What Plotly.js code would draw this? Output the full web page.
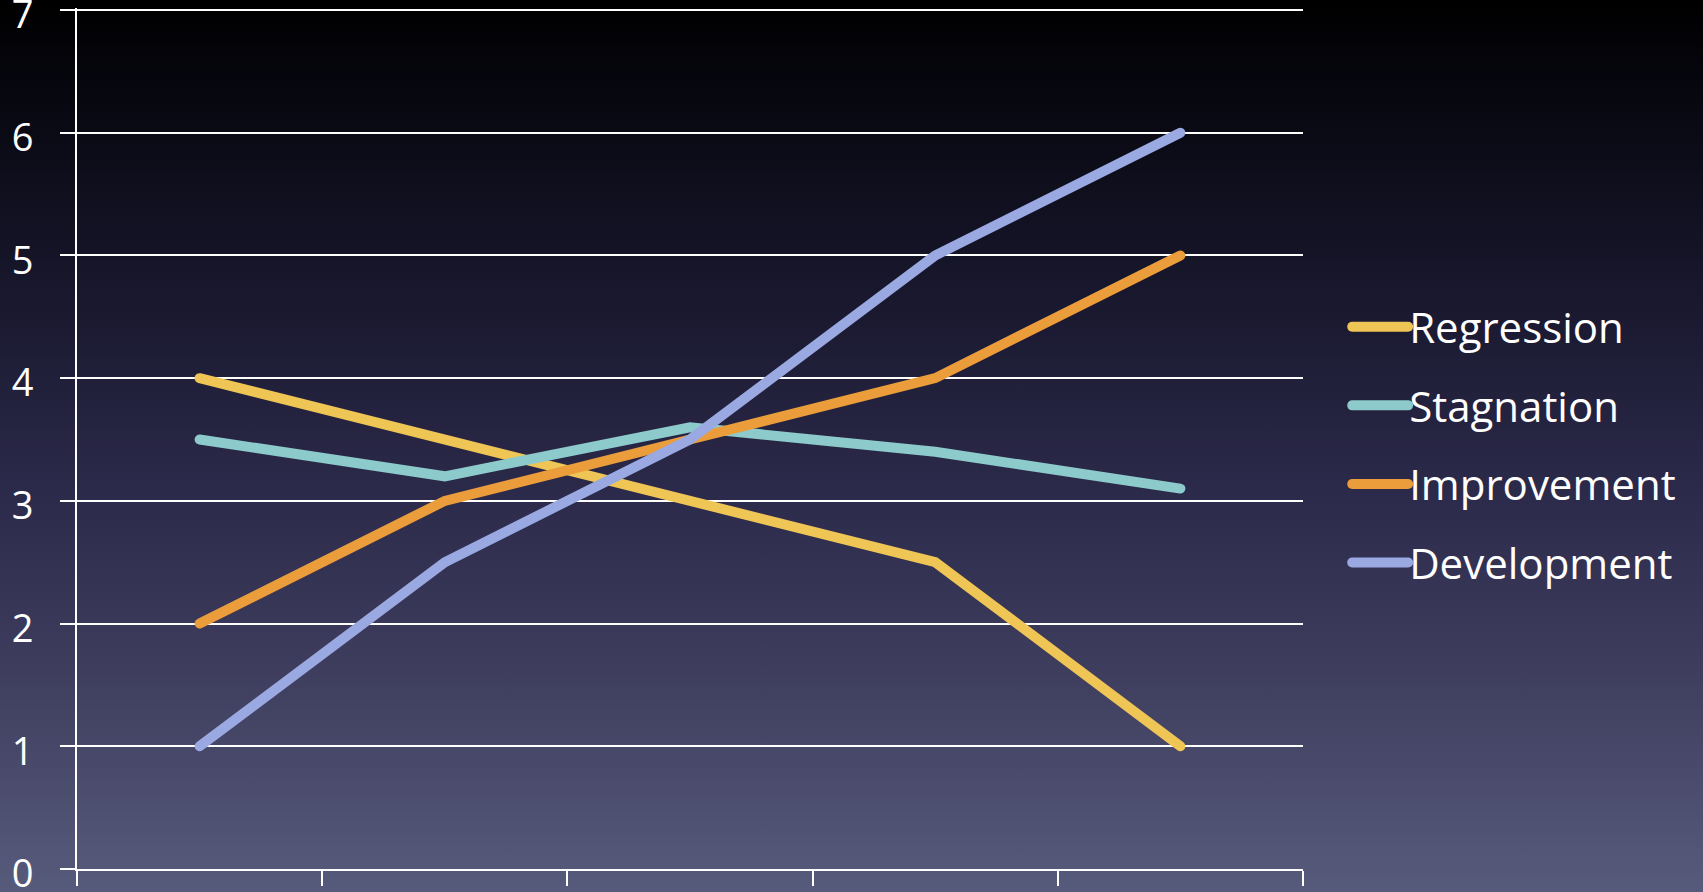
<!DOCTYPE html>
<html>
<head>
<meta charset="utf-8">
<script src="https://cdn.plot.ly/plotly-3.0.1.min.js"></script>
<style>
  html, body { margin: 0; padding: 0; }
  body {
    width: 1703px; height: 892px; overflow: hidden;
    background: linear-gradient(to bottom, #000000 0%, #05050c 8%, #1a1930 35%, #2c2a4a 55%, #3e3d5e 75%, #575b7b 100%);
  }
  #chart { width: 1703px; height: 892px; }
  .scatterlayer path.js-line, .legend path.js-line { stroke-linecap: round; }
</style>
</head>
<body>
<div id="chart"></div>
<script>
// Five periods along the x axis (unlabelled), four trajectories
const categories = ['1', '2', '3', '4', '5'];
const seriesNames = ['Regression', 'Stagnation', 'Improvement', 'Development'];
const regression  = [4, 3.5, 3, 2.5, 1];
const stagnation  = [3.5, 3.2, 3.6, 3.4, 3.1];
const improvement = [2, 3, 3.5, 4, 5];
const development = [1, 2.5, 3.5, 5, 6];
const yTicks = [0, 1, 2, 3, 4, 5, 6, 7];

const seriesValues = [regression, stagnation, improvement, development];
const seriesColors = ['#efc555', '#8ccacb', '#eb9c3b', '#9ba9e2'];

const traces = seriesNames.map((name, i) => ({
  type: 'scatter',
  mode: 'lines',
  name: name,
  legendgroup: name,
  x: categories,
  y: seriesValues[i],
  line: { color: seriesColors[i], width: 10 },
  hoverinfo: 'skip'
}));

const fontFamily = '"Open Sans", "Noto Sans", sans-serif';
const legendSwatch = 56;

const layout = {
  width: 1703,
  height: 892,
  margin: { l: 77, r: 400, t: 8, b: 23, pad: 0 },
  paper_bgcolor: 'rgba(0,0,0,0)',
  plot_bgcolor: 'rgba(0,0,0,0)',
  font: { family: fontFamily, color: '#ffffff', size: 40 },
  showlegend: true,
  legend: {
    x: 1.036, xanchor: 'left',
    y: 0.4925, yanchor: 'middle',
    bgcolor: 'rgba(0,0,0,0)',
    font: { family: fontFamily, color: '#ffffff', size: 42 },
    tracegroupgap: 21,
    itemwidth: legendSwatch - 4
  },
  xaxis: {
    type: 'category',
    categoryorder: 'array',
    categoryarray: categories,
    range: [-0.5, categories.length - 0.5],
    showgrid: false,
    showline: true,
    linecolor: '#ffffff',
    linewidth: 2,
    ticks: 'outside',
    tickson: 'boundaries',
    ticklen: 15,
    tickwidth: 2,
    tickcolor: '#ffffff',
    showticklabels: false,
    zeroline: false,
    fixedrange: true
  },
  yaxis: {
    // a little headroom above 7 so its gridline is kept
    range: [0, 7.0163],
    tickvals: yTicks,
    ticktext: yTicks.map(String),
    showgrid: true,
    gridcolor: '#ffffff',
    gridwidth: 2,
    showline: true,
    linecolor: '#ffffff',
    linewidth: 2,
    ticks: 'outside',
    ticklen: 15,
    tickwidth: 2,
    tickcolor: '#ffffff',
    tickfont: { family: fontFamily, color: '#ffffff', size: 38 },
    ticklabelstandoff: 19,
    ticklabelshift: 5,
    ticklabeloverflow: 'allow',
    zeroline: false,
    fixedrange: true
  }
};

Plotly.newPlot('chart', traces, layout, { staticPlot: true, displayModeBar: false }).then(gd => {
  // longer legend swatches with rounded ends
  gd.querySelectorAll('.legend .legendlines path.js-line').forEach(p => {
    p.setAttribute('d', 'M5,0h' + legendSwatch);
  });
});
</script>
</body>
</html>
